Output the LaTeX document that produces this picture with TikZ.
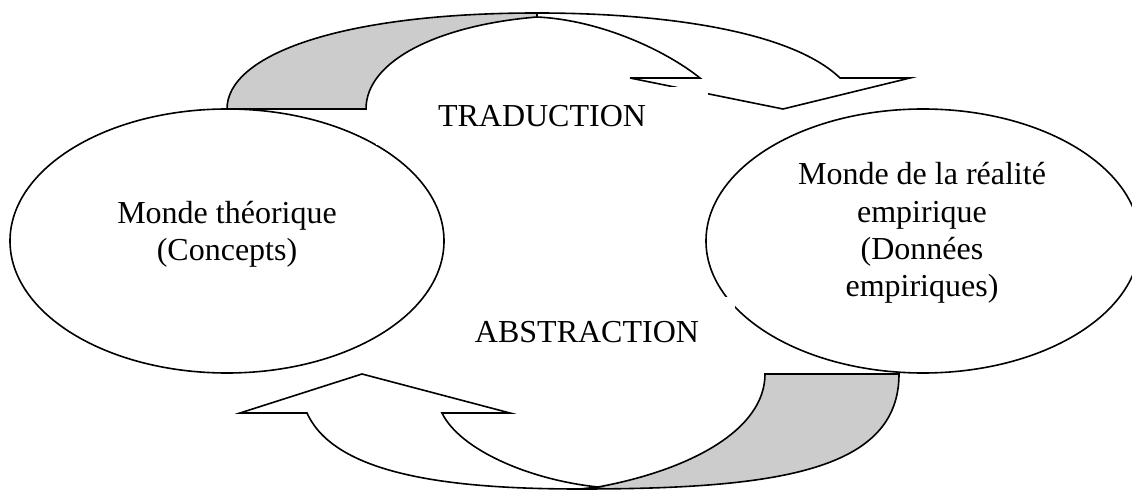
\documentclass[tikz,border=0pt]{standalone}
\usepackage{fontspec}
\setmainfont{Liberation Serif}
\usetikzlibrary{shapes.geometric}
\begin{document}
\begin{tikzpicture}[x=0.75pt,y=-0.75pt,
  trait/.style={line width=1.2pt,line join=miter},
  monde/.style={ellipse,draw,line width=1.2pt,fill=white,minimum width=325.5pt,minimum height=198pt,inner sep=0pt},
  etiquette/.style={align=center,font=\fontsize{24}{28}\selectfont},
  cadre/.style={etiquette,fill=white,inner sep=0pt}]
  \definecolor{fond}{HTML}{CCCCCC}
  \useasboundingbox (0,0) rectangle (1132,491);
  % fleche du haut
  \filldraw [trait,fill=fond] (227,109) .. controls (227,55) and (340,13) .. (537,13) -- (537,17)
   .. controls (440,25) and (366,60) .. (366,109) -- cycle;
  \filldraw [trait,fill=white] (537,13) .. controls (660,13) and (790,30) .. (840,78) -- (910,78) -- (783,109)
   -- (630,78) -- (700,78) .. controls (665,50) and (600,20) .. (537,17) -- cycle;
  % fleche du bas
  \filldraw [trait,fill=fond] (765,374) -- (899,374) .. controls (899,470) and (780,489) .. (580,489) -- (598,487)
   .. controls (690,470) and (765,430) .. (765,374) -- cycle;
  \filldraw [trait,fill=white] (307,413) -- (240,413) -- (362,374) -- (510,413) -- (442,413)
   .. controls (460,450) and (530,480) .. (598,487) -- (580,489) .. controls (450,489) and (335,475) .. (307,413) -- cycle;
  \node [monde] (theo) at (227,241) {};
  \node [monde] (empir) at (923,241) {};
  \node [etiquette] (theoTxt) at (227,234) {Monde théorique\\(Concepts)};
  \node [etiquette] (empirTxt) at (922,233) {Monde de la réalité\\empirique\\(Données\\empiriques)};
  \node [cadre,minimum width=249pt,minimum height=43.5pt] (trad) at (542,116) {TRADUCTION};
  \node [cadre,minimum width=222pt,minimum height=52.5pt] (abst) at (587,332) {ABSTRACTION};
\end{tikzpicture}
\end{document}
